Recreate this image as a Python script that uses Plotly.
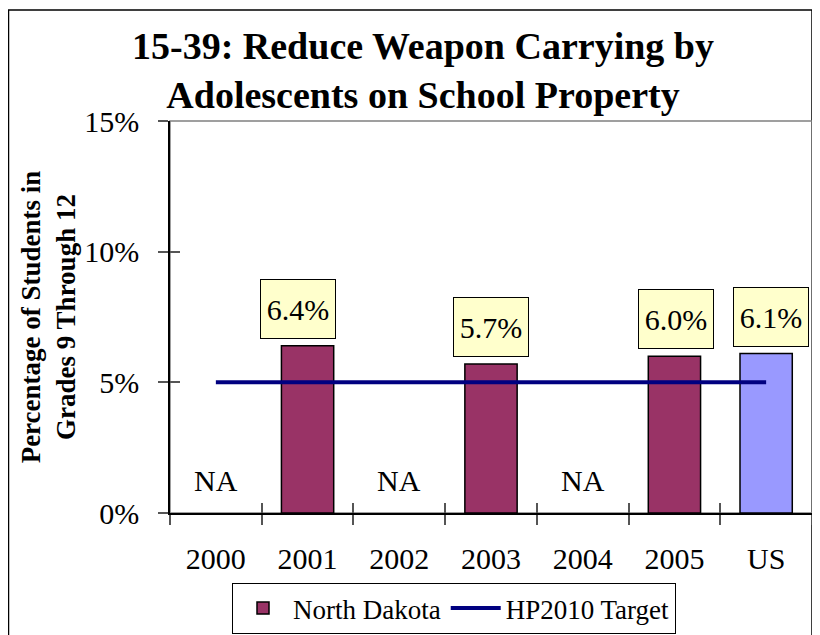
import plotly.graph_objects as go

# ---- data ----
categories = ["2000", "2001", "2002", "2003", "2004", "2005", "US"]
nd_values = [None, 6.4, None, 5.7, None, 6.0, None]
us_values = [None, None, None, None, None, None, 6.1]
target_values = [5, 5, 5, 5, 5, 5, 5]
value_labels = ["", "6.4%", "", "5.7%", "", "6.0%", "6.1%"]
na_text = "NA"
y_tick_vals = [0, 5, 10, 15]
y_tick_text = ["0%", "5%", "10%", "15%"]

FONT = "Liberation Serif, Times New Roman, serif"
W, H = 820, 635
OFF = 8  # page body margin offset of the rendered figure
# target screen positions of the plot area
SX0, SX1, SY0, SY1 = 170, 812, 121, 513
ML = SX0 - OFF
MR = W - (SX1 - OFF)
MT = SY0 - OFF
MB = H - (SY1 - OFF)
PW = W - ML - MR
PH = H - MT - MB


def px_x(sx):
    return (sx - OFF - ML) / PW


def px_y(sy):
    return 1 - (sy - OFF - MT) / PH


fig = go.Figure()

fig.add_trace(go.Bar(
    x=categories, y=nd_values, name="North Dakota",
    marker=dict(color="#993366", line=dict(color="black", width=1.5)),
    width=0.57,
))
fig.add_trace(go.Bar(
    x=categories, y=us_values, name="US", showlegend=False,
    marker=dict(color="#9999FF", line=dict(color="black", width=1.5)),
    width=0.57,
))
fig.add_trace(go.Scatter(
    x=categories, y=target_values, name="HP2010 Target", mode="lines",
    line=dict(color="#000080", width=4),
))

annotations = []
xshifts = {"2001": -10, "2003": 0, "2005": 2, "US": 5}
for i, (c, nd, us, lab) in enumerate(zip(categories, nd_values, us_values, value_labels)):
    v = nd if nd is not None else us
    if v is None:
        annotations.append(dict(
            x=i, y=0, xref="x", yref="y", text=na_text, showarrow=False,
            yanchor="bottom", yshift=14,
            font=dict(family=FONT, size=30, color="black"),
        ))
    else:
        annotations.append(dict(
            x=i, y=v, xref="x", yref="y", text=lab, showarrow=False,
            yanchor="bottom", yshift=7, xshift=xshifts.get(c, 0),
            width=74, height=58,
            bgcolor="#FFFFCC", bordercolor="black", borderwidth=1, borderpad=0,
            font=dict(family=FONT, size=30, color="black"),
        ))

# title as a paper-referenced annotation
annotations.append(dict(
    text="<b>15-39: Reduce Weapon Carrying by<br>Adolescents on School Property</b>",
    xref="paper", yref="paper",
    x=px_x(423), xanchor="center",
    y=px_y(23), yanchor="top",
    showarrow=False, align="center",
    font=dict(family=FONT, size=38, color="black"),
))

shapes = [
    # outer frame
    dict(type="rect", xref="paper", yref="paper",
         x0=px_x(8.5), x1=px_x(812), y0=-0.5, y1=px_y(10),
         line=dict(color="black", width=1.5), fillcolor="rgba(0,0,0,0)", layer="below"),
    # plot frame
    dict(type="rect", xref="paper", yref="paper", x0=0, x1=1, y0=0, y1=1,
         line=dict(color="#808080", width=1.5), fillcolor="rgba(0,0,0,0)", layer="below"),
]

fig.update_layout(
    width=W, height=H,
    margin=dict(l=ML, r=MR, t=MT, b=MB, pad=0, autoexpand=False),
    paper_bgcolor="white", plot_bgcolor="white",
    barmode="overlay",
    font=dict(family=FONT, color="black"),
    xaxis=dict(
        type="category", categoryorder="array", categoryarray=categories,
        range=[-0.5, 6.5], automargin=False,
        showline=True, linecolor="black", linewidth=1.5,
        ticks="outside", tickson="boundaries", ticklen=10, tickcolor="#555555", tickwidth=1.5,
        tickfont=dict(family=FONT, size=30, color="black"),
        ticklabelstandoff=18,
        showgrid=False, zeroline=False, fixedrange=True,
    ),
    xaxis2=dict(
        overlaying="x", anchor="y", range=[-0.5, 6.5], automargin=False,
        tickvals=[i - 0.5 for i in range(len(categories) + 1)],
        ticks="inside", ticklen=10, tickcolor="#555555", tickwidth=1.5,
        showticklabels=False, showline=False, showgrid=False, zeroline=False,
    ),
    yaxis=dict(
        range=[0, 15], tickvals=y_tick_vals, ticktext=y_tick_text, automargin=False,
        showline=True, linecolor="black", linewidth=1.5,
        ticks="outside", ticklen=10, tickcolor="#555555", tickwidth=1.5,
        tickfont=dict(family=FONT, size=30, color="black"),
        ticklabelstandoff=13,
        showgrid=False, zeroline=False, fixedrange=True,
        title=dict(text="<b>Percentage of Students in<br>Grades 9 Through 12</b>",
                   font=dict(family=FONT, size=27, color="black"), standoff=1),
    ),
    yaxis2=dict(
        overlaying="y", anchor="x", range=[0, 15], side="left", automargin=False,
        tickvals=y_tick_vals, ticks="inside", ticklen=10, tickcolor="#555555", tickwidth=1.5,
        showticklabels=False, showline=False, showgrid=False, zeroline=False,
    ),
    showlegend=True,
    legend=dict(
        orientation="h", x=px_x(232), xanchor="left",
        y=px_y(583), yanchor="top",
        bordercolor="black", borderwidth=1, bgcolor="white",
        font=dict(family=FONT, size=27, color="black"),
        itemwidth=50, traceorder="normal",
    ),
    annotations=annotations,
    shapes=shapes,
)

# invisible trace to activate the overlay tick axes
fig.add_trace(go.Scatter(x=[None], y=[None], xaxis="x2", yaxis="y2", showlegend=False, hoverinfo="skip"))

fig.write_html("out.html")
